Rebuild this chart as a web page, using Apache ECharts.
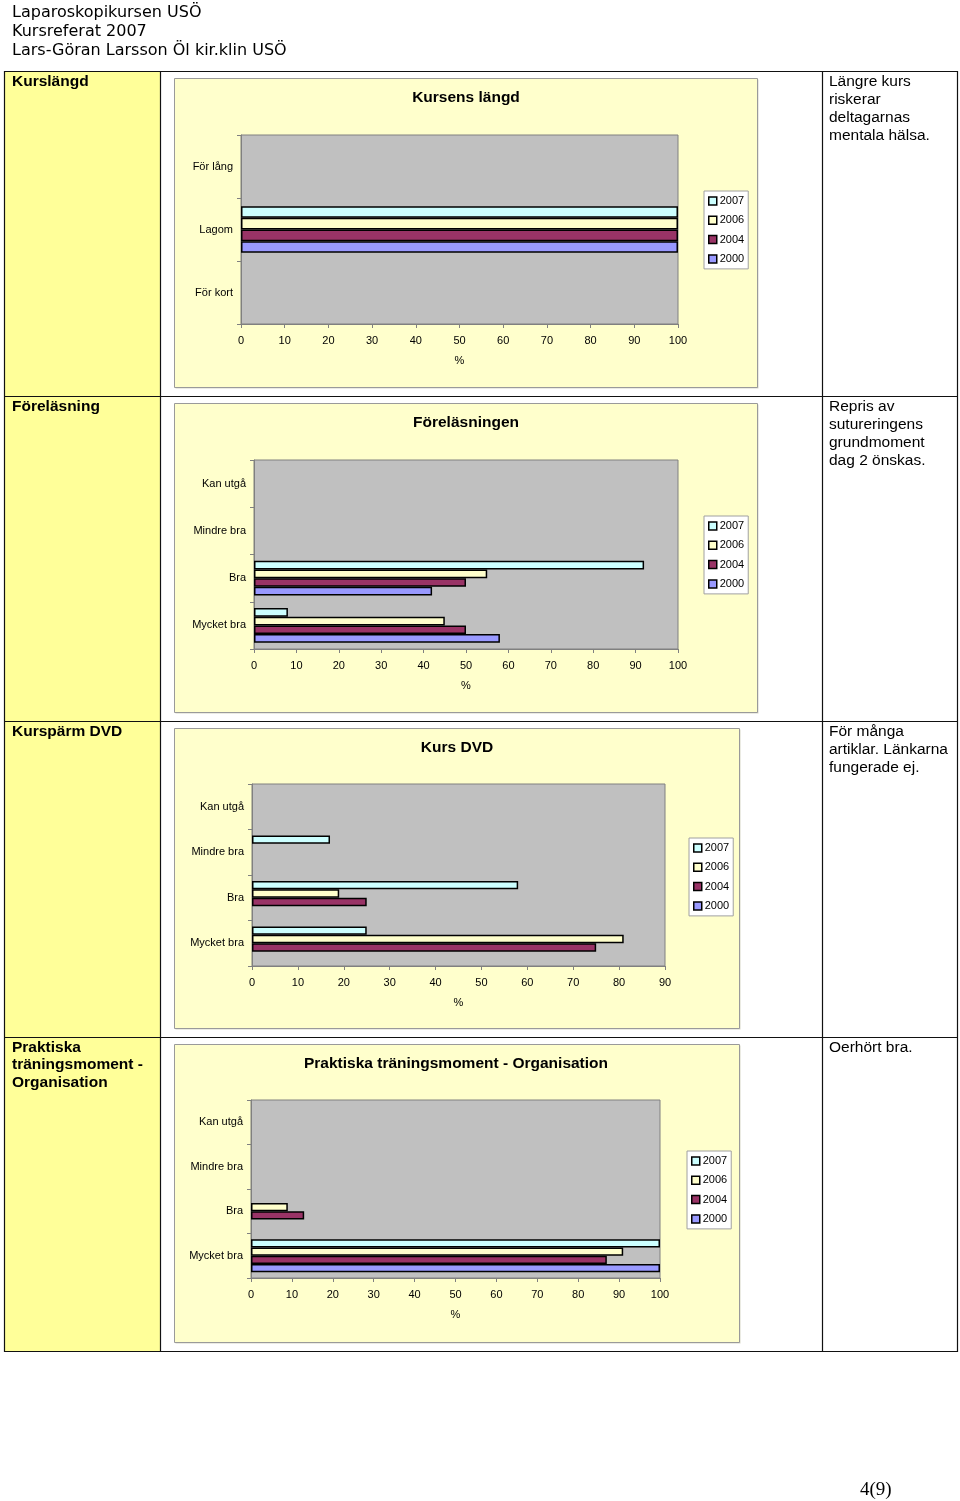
<!DOCTYPE html>
<html>
<head>
<meta charset="utf-8">
<script src="https://cdn.jsdelivr.net/npm/echarts@6/dist/echarts.min.js"></script>
<style>
html,body{margin:0;padding:0;background:#fff;}
#page{width:960px;height:1501px;}
</style>
</head>
<body>
<div id="page"></div>
<script>
// ---- data ----
const years = ['2007', '2006', '2004', '2000'];
const xTicksMax = [100, 100, 90, 100];

const langdTitle = 'Kursens längd';
const langdCats = ['För lång', 'Lagom', 'För kort'];
const langd2007 = [null, 100, null];
const langd2006 = [null, 100, null];
const langd2004 = [null, 100, null];
const langd2000 = [null, 100, null];

const forelTitle = 'Föreläsningen';
const forelCats = ['Kan utgå', 'Mindre bra', 'Bra', 'Mycket bra'];
const forel2007 = [null, null, 92, 8];
const forel2006 = [null, null, 55, 45];
const forel2004 = [null, null, 50, 50];
const forel2000 = [null, null, 42, 58];

const dvdTitle = 'Kurs DVD';
const dvdCats = ['Kan utgå', 'Mindre bra', 'Bra', 'Mycket bra'];
const dvd2007 = [null, 17, 58, 25];
const dvd2006 = [null, null, 19, 81];
const dvd2004 = [null, null, 25, 75];
const dvd2000 = [null, null, null, null];

const prakTitle = 'Praktiska träningsmoment - Organisation';
const prakCats = ['Kan utgå', 'Mindre bra', 'Bra', 'Mycket bra'];
const prak2007 = [null, null, null, 100];
const prak2006 = [null, null, 9, 91];
const prak2004 = [null, null, 13, 87];
const prak2000 = [null, null, null, 100];

const headerLines = ['Laparoskopikursen USÖ', 'Kursreferat 2007', 'Lars-Göran Larsson Öl kir.klin USÖ'];
const rowLabels = ['Kurslängd', 'Föreläsning', 'Kurspärm DVD', 'Praktiska\nträningsmoment -\nOrganisation'];
const rowComments = ['Längre kurs\nriskerar\ndeltagarnas\nmentala hälsa.', 'Repris av\nsutureringens\ngrundmoment\ndag 2 önskas.', 'För många\nartiklar. Länkarna\nfungerade ej.', 'Oerhört bra.'];
const pageNo = '4(9)';

// ---- layout (styling only) ----
const charts = [
  {title: langdTitle, cats: langdCats, vals: [langd2007, langd2006, langd2004, langd2000],
   box: [174, 78, 583, 309], grid: [241, 135, 437, 189], titleX: 466, titleY: 90, legend: [704, 191]},
  {title: forelTitle, cats: forelCats, vals: [forel2007, forel2006, forel2004, forel2000],
   box: [174, 403, 583, 309], grid: [254, 460, 424, 189], titleX: 466, titleY: 415, legend: [704, 516]},
  {title: dvdTitle, cats: dvdCats, vals: [dvd2007, dvd2006, dvd2004, dvd2000],
   box: [174, 728, 565, 300], grid: [252, 784, 413, 182], titleX: 457, titleY: 740, legend: [689, 838]},
  {title: prakTitle, cats: prakCats, vals: [prak2007, prak2006, prak2004, prak2000],
   box: [174, 1044, 565, 298], grid: [251, 1100, 409, 178], titleX: 456, titleY: 1056, legend: [687, 1151]}
];
const colors = ['#CCFFFF', '#FFFFCC', '#993366', '#9999FF'];
const rowTops = [71, 396, 721, 1037];
const tableBottom = 1351;

const graphic = [];
// column 1 yellow
graphic.push({type: 'rect', z: -20, shape: {x: 5, y: 71, width: 155, height: tableBottom - 71}, style: {fill: '#FFFF99'}});
// chart boxes
charts.forEach(c => {
  graphic.push({type: 'rect', z: -19, shape: {x: c.box[0] + 1.5, y: c.box[1] + 1.5, width: c.box[2], height: c.box[3]}, style: {fill: '#d8d8c8'}});
  graphic.push({type: 'rect', z: -18, shape: {x: c.box[0] + 0.5, y: c.box[1] + 0.5, width: c.box[2], height: c.box[3]}, style: {fill: '#FFFFCC', stroke: '#9a9a9a', lineWidth: 1}});
});
// table lines
graphic.push({type: 'rect', z: -10, shape: {x: 4.5, y: 71.5, width: 953, height: tableBottom - 71}, style: {fill: null, stroke: '#111', lineWidth: 1.2}});
[160, 822].forEach(x => graphic.push({type: 'line', z: -10, shape: {x1: x + 0.5, y1: 71, x2: x + 0.5, y2: tableBottom}, style: {stroke: '#111', lineWidth: 1.2}}));
rowTops.slice(1).forEach(y => graphic.push({type: 'line', z: -10, shape: {x1: 5, y1: y + 0.5, x2: 958, y2: y + 0.5}, style: {stroke: '#111', lineWidth: 1.2}}));
// header
graphic.push({type: 'text', z: 10, style: {x: 12, y: 3, text: headerLines.join('\n'), font: '16px "DejaVu Sans", Verdana, sans-serif', lineHeight: 19, fill: '#000', textVerticalAlign: 'top'}});
// row labels and comments
rowTops.forEach((t, i) => {
  graphic.push({type: 'text', z: 10, style: {x: 12, y: t + 1.5, text: rowLabels[i], font: 'bold 15.5px "Liberation Sans", Arial, sans-serif', lineHeight: 17.7, fill: '#000', textVerticalAlign: 'top'}});
  graphic.push({type: 'text', z: 10, style: {x: 829, y: t + 1.5, text: rowComments[i], font: '15.5px "Liberation Sans", Arial, sans-serif', lineHeight: 18, fill: '#000', textVerticalAlign: 'top'}});
});
graphic.push({type: 'text', z: 10, style: {x: 860, y: 1481, text: pageNo, font: '19px "Liberation Serif", "Times New Roman", serif', fill: '#000', textVerticalAlign: 'top'}});

const font = '"Liberation Sans", Arial, sans-serif';
const option = {
  animation: false,
  backgroundColor: '#fff',
  graphic: graphic,
  title: charts.map(c => ({text: c.title, left: c.titleX, top: c.titleY, textAlign: 'center', padding: 0,
    textStyle: {fontFamily: font, fontSize: 15.5, fontWeight: 'bold', color: '#000'}})),
  legend: charts.map((c, i) => ({
    data: years, orient: 'vertical', left: c.legend[0], top: c.legend[1],
    backgroundColor: '#fff', borderColor: '#a0a0a0', borderWidth: 1, padding: 4,
    itemWidth: 8, itemHeight: 8, itemGap: 7.3, icon: 'rect', selectedMode: false,
    itemStyle: {borderColor: '#000', borderWidth: 1.5},
    textStyle: {fontFamily: font, fontSize: 11, color: '#000', lineHeight: 12, padding: [0, 0, 0, -2]}
  })),
  grid: charts.map(c => ({left: c.grid[0], top: c.grid[1], width: c.grid[2], height: c.grid[3],
    show: true, backgroundColor: '#C0C0C0', borderColor: '#808080', borderWidth: 1})),
  xAxis: charts.map((c, i) => ({
    type: 'value', gridIndex: i, min: 0, max: xTicksMax[i], interval: 10,
    name: '%', nameLocation: 'middle', nameGap: 31,
    nameTextStyle: {fontFamily: font, fontSize: 11, color: '#000'},
    axisLine: {show: true, lineStyle: {color: '#808080'}},
    axisTick: {show: true, length: 4, lineStyle: {color: '#808080'}},
    splitLine: {show: false},
    axisLabel: {fontFamily: font, fontSize: 11, color: '#000', margin: 11}
  })),
  yAxis: charts.map((c, i) => ({
    type: 'category', gridIndex: i, data: c.cats, inverse: true,
    axisLine: {show: true, lineStyle: {color: '#808080'}},
    axisTick: {show: true, length: 4, lineStyle: {color: '#808080'}},
    splitLine: {show: false},
    axisLabel: {fontFamily: font, fontSize: 11, color: '#000', margin: 8}
  })),
  series: []
};
charts.forEach((c, i) => {
  years.forEach((y, k) => {
    option.series.push({
      type: 'bar', name: y, xAxisIndex: i, yAxisIndex: i, data: c.vals[k],
      barGap: '0%', barCategoryGap: '26%',
      itemStyle: {color: colors[k], borderColor: '#000', borderWidth: 1.5}
    });
  });
});
const chart = echarts.init(document.getElementById('page'), null, {renderer: 'canvas', width: 960, height: 1501});
chart.setOption(option);
</script>
</body>
</html>
